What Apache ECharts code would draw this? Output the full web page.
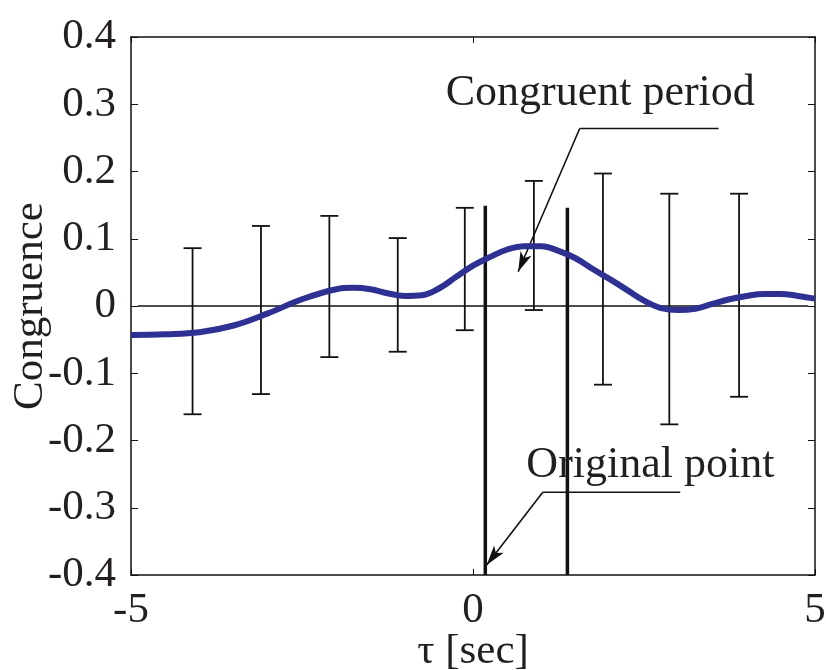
<!DOCTYPE html>
<html><head><meta charset="utf-8">
<script src="https://cdn.jsdelivr.net/npm/echarts@6/dist/echarts.min.js"></script>
<style>html,body{margin:0;padding:0;background:#fff}#c{width:826px;height:670px}</style>
</head><body><div id="c"></div>
<script>
// Congruence curve (tau, value)
const curveX = [-5,-4.5,-4,-3.5,-3,-2.5,-2,-1.75,-1.5,-1.25,-1,-0.75,-0.5,-0.25,0,0.25,0.5,0.75,1,1.25,1.5,1.75,2,2.25,2.5,2.75,3,3.25,3.5,3.75,4,4.25,4.5,4.75,5];
const curveY = [-0.043,-0.042,-0.039,-0.029,-0.011,0.010,0.025,0.027,0.025,0.019,0.015,0.016,0.026,0.043,0.060,0.073,0.084,0.089,0.089,0.082,0.071,0.055,0.040,0.024,0.008,-0.003,-0.006,-0.004,0.003,0.010,0.015,0.018,0.018,0.015,0.011];
// Error bars
const errX = [-4.1,-3.1,-2.1,-1.1,-0.12,0.89,1.9,2.87,3.89];
const errHigh = [0.086,0.119,0.134,0.101,0.146,0.186,0.197,0.167,0.167];
const errLow = [-0.161,-0.131,-0.076,-0.068,-0.036,-0.006,-0.117,-0.176,-0.135];
// Thick vertical markers
const markX = [0.18,1.38];
const markTop = [0.149,0.146];
// Annotations
const annText = ['Congruent period','Original point'];
const annPos = [[-0.40,0.284],[0.78,-0.270]];
const leader1 = [[3.59,0.264],[1.56,0.264]];
const arrow1 = [[1.56,0.264],[0.66,0.051]];
const leader2 = [[3.03,-0.277],[1.02,-0.277]];
const arrow2 = [[1.02,-0.277],[0.20,-0.385]];
const zeroLine = [[-4.9,0],[4.9,0]];

const FONT = '"Liberation Serif","DejaVu Serif",serif';
const TXT = '#231f20';
const chart = echarts.init(document.getElementById('c'));

const series = [];
series.push({type:'line', data: zeroLine, symbol:'none', lineStyle:{color:'#111',width:1.5}, silent:true, z:2});
series.push({
  type:'custom', z:3,
  data: errX.map((x,i)=>[x, errLow[i], errHigh[i]]),
  renderItem: function(params, api){
    const x = api.value(0);
    const lo = api.coord([x, api.value(1)]);
    const hi = api.coord([x, api.value(2)]);
    const w = 9;
    const st = {stroke:'#111', lineWidth:1.8, fill:null};
    return {type:'group', children:[
      {type:'line', shape:{x1:lo[0],y1:lo[1],x2:hi[0],y2:hi[1]}, style:st},
      {type:'line', shape:{x1:lo[0]-w,y1:lo[1],x2:lo[0]+w,y2:lo[1]}, style:st},
      {type:'line', shape:{x1:hi[0]-w,y1:hi[1],x2:hi[0]+w,y2:hi[1]}, style:st}
    ]};
  }
});
markX.forEach((x,i)=>{
  series.push({type:'line', data:[[x,-0.4],[x,markTop[i]]], symbol:'none', lineStyle:{color:'#111',width:3.5}, z:4});
});
series.push({type:'line', data: curveX.map((x,i)=>[x,curveY[i]]), smooth:0.4, symbol:'none',
  lineStyle:{color:'#2e3192',width:6}, z:5});
[[leader1,arrow1],[leader2,arrow2]].forEach(([l,a])=>{
  series.push({type:'line', data:l, symbol:'none', lineStyle:{color:'#111',width:1.6}, z:6,
    markLine:{silent:true, symbol:['none','arrow'], symbolSize:[9,20], animation:false,
      lineStyle:{color:'#111',width:1.6,type:'solid'}, label:{show:false},
      data:[[{coord:a[0]},{coord:a[1]}]]}});
});
series.push({type:'custom', z:7,
  data: annPos.map((p,i)=>[p[0],p[1],i]),
  renderItem: function(params, api){
    const p = api.coord([api.value(0), api.value(1)]);
    return {type:'text', x:p[0], y:p[1], style:{text:annText[api.value(2)], fill:TXT,
      font:'44px ' + FONT, textAlign:'left', textVerticalAlign:'bottom'}};
  }
});

const axisLine = {show:true, onZero:false, lineStyle:{color:'#111',width:1.5}};
chart.setOption({
  animation:false,
  grid:{left:131, right:11, top:37, bottom:95, containLabel:false, outerBoundsMode:'none'},
  xAxis:[{
    type:'value', min:-5, max:5, interval:5,
    axisLine:axisLine, axisTick:{inside:true,length:6,lineStyle:{color:'#111'}},
    axisLabel:{fontFamily:FONT,fontSize:43,color:TXT,margin:14},
    splitLine:{show:false},
    name:'τ [sec]', nameLocation:'middle', nameGap:55, nameMoveOverlap:false,
    nameTextStyle:{fontFamily:FONT,fontSize:43,color:TXT}
  },{
    type:'value', position:'top', min:-5, max:5, interval:5,
    axisLine:axisLine, axisTick:{inside:true,length:6,lineStyle:{color:'#111'}},
    axisLabel:{show:false}, splitLine:{show:false}
  }],
  yAxis:[{
    type:'value', min:-0.4, max:0.4, interval:0.1,
    axisLine:axisLine, axisTick:{show:true,inside:true,length:7,lineStyle:{color:'#111'}},
    axisLabel:{fontFamily:FONT,fontSize:43,color:TXT,margin:15},
    splitLine:{show:false},
    name:'Congruence', nameLocation:'middle', nameGap:79, nameMoveOverlap:false,
    nameTextStyle:{fontFamily:FONT,fontSize:43,color:TXT}
  },{
    type:'value', position:'right', min:-0.4, max:0.4, interval:0.1,
    axisLine:axisLine, axisTick:{show:true,inside:true,length:7,lineStyle:{color:'#111'}},
    axisLabel:{show:false}, splitLine:{show:false}
  }],
  series: series
});
</script></body></html>
